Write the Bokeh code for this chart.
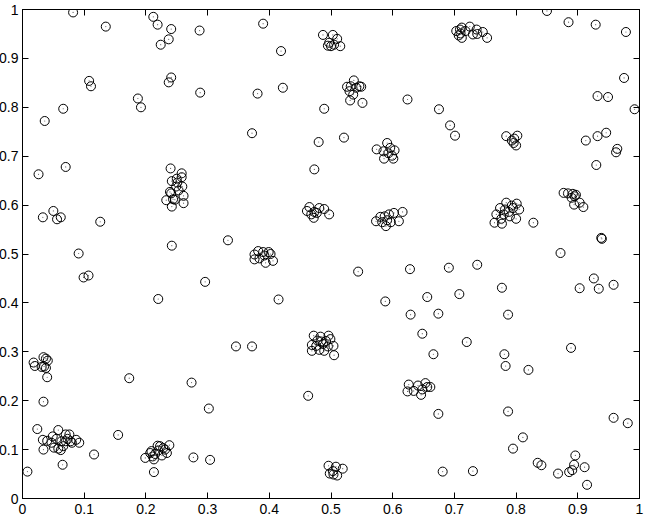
from bokeh.plotting import figure
from bokeh.models import LinearAxis, FixedTicker, Range1d
from bokeh.embed import file_html
from bokeh.resources import INLINE

# Isolated points
x_scattered = [0.082, 0.135, 0.212, 0.219, 0.241, 0.224, 0.237, 0.287, 0.108, 0.111, 0.241, 0.237,
               0.187, 0.192, 0.288, 0.066, 0.036, 0.026, 0.070, 0.033, 0.050, 0.056, 0.062, 0.126,
               0.091, 0.242, 0.099, 0.107, 0.220, 0.296, 0.173, 0.274, 0.302, 0.155, 0.116, 0.277,
               0.304, 0.008, 0.065, 0.213, 0.034, 0.040,
               0.390, 0.419, 0.381, 0.422, 0.372, 0.489, 0.480, 0.521, 0.473, 0.624, 0.333,
               0.544, 0.628, 0.415, 0.588, 0.629, 0.656, 0.648, 0.346, 0.372, 0.463,
               0.850, 0.885, 0.929, 0.978, 0.975, 0.932, 0.949, 0.992, 0.675, 0.693, 0.701, 0.913,
               0.932, 0.946, 0.964, 0.962, 0.930, 0.828, 0.938, 0.939, 0.872,
               0.691, 0.737, 0.777, 0.708, 0.674, 0.787, 0.720, 0.666, 0.781, 0.783, 0.820, 0.889,
               0.903, 0.926, 0.934, 0.958, 0.674, 0.787, 0.958, 0.981, 0.811, 0.795, 0.835, 0.841,
               0.681, 0.730, 0.868, 0.886, 0.891, 0.894, 0.896, 0.911, 0.915]
y_scattered = [0.994, 0.965, 0.985, 0.969, 0.960, 0.928, 0.939, 0.957, 0.854, 0.843, 0.861, 0.851,
               0.818, 0.800, 0.830, 0.797, 0.772, 0.663, 0.678, 0.575, 0.588, 0.571, 0.575, 0.566,
               0.501, 0.517, 0.452, 0.456, 0.408, 0.443, 0.246, 0.237, 0.184, 0.130, 0.090, 0.084,
               0.079, 0.055, 0.069, 0.054, 0.198, 0.248,
               0.971, 0.915, 0.828, 0.840, 0.747, 0.797, 0.729, 0.738, 0.673, 0.816, 0.528,
               0.464, 0.469, 0.407, 0.403, 0.376, 0.412, 0.337, 0.311, 0.311, 0.210,
               0.997, 0.974, 0.969, 0.954, 0.860, 0.823, 0.821, 0.796, 0.796, 0.763, 0.742, 0.732,
               0.741, 0.748, 0.715, 0.708, 0.682, 0.564, 0.533, 0.531, 0.502,
               0.472, 0.478, 0.431, 0.418, 0.378, 0.376, 0.320, 0.295, 0.295, 0.271, 0.263, 0.308,
               0.430, 0.450, 0.429, 0.437, 0.173, 0.178, 0.165, 0.154, 0.125, 0.102, 0.073, 0.068,
               0.055, 0.056, 0.051, 0.054, 0.058, 0.069, 0.088, 0.064, 0.028]

# Clustered points
x_clustered = [0.240, 0.258, 0.258, 0.250, 0.242, 0.251, 0.249, 0.259, 0.239, 0.253, 0.233, 0.244,
               0.261, 0.261, 0.242, 0.247, 0.241,
               0.018, 0.020, 0.034, 0.038, 0.041, 0.035, 0.038, 0.031,
               0.024, 0.033, 0.040, 0.034, 0.049, 0.047, 0.051, 0.058, 0.058, 0.062, 0.063, 0.070,
               0.073, 0.076, 0.078, 0.080, 0.087, 0.092, 0.070, 0.066, 0.055,
               0.199, 0.207, 0.211, 0.213, 0.215, 0.219, 0.223, 0.226, 0.231, 0.234, 0.238, 0.209,
               0.220, 0.228,
               0.487, 0.503, 0.510, 0.497, 0.500, 0.495, 0.505, 0.515,
               0.537, 0.526, 0.532, 0.541, 0.549, 0.530, 0.536, 0.531, 0.551, 0.546,
               0.591, 0.574, 0.585, 0.596, 0.603, 0.586, 0.601, 0.599, 0.593,
               0.461, 0.465, 0.473, 0.472, 0.481, 0.489, 0.497, 0.468, 0.477,
               0.573, 0.580, 0.587, 0.594, 0.602, 0.616, 0.589, 0.591, 0.597, 0.610, 0.583,
               0.382, 0.390, 0.399, 0.376, 0.376, 0.394, 0.406, 0.384, 0.392, 0.402,
               0.472, 0.483, 0.496, 0.499, 0.469, 0.476, 0.487, 0.495, 0.504, 0.469, 0.481, 0.489,
               0.505, 0.484, 0.492, 0.478,
               0.496, 0.508, 0.519, 0.498, 0.504, 0.510, 0.503,
               0.626, 0.624, 0.641, 0.646, 0.653, 0.656, 0.661, 0.648, 0.634,
               0.703, 0.709, 0.712, 0.710, 0.712, 0.718, 0.725, 0.730, 0.736, 0.737, 0.746, 0.753,
               0.707,
               0.784, 0.802, 0.793, 0.796, 0.800, 0.797,
               0.784, 0.793, 0.801, 0.774, 0.782, 0.795, 0.805, 0.768, 0.780, 0.788, 0.800, 0.776,
               0.765, 0.777, 0.790,
               0.877, 0.884, 0.892, 0.895, 0.890, 0.894, 0.903, 0.909, 0.897]
y_clustered = [0.675, 0.665, 0.657, 0.654, 0.649, 0.646, 0.638, 0.638, 0.627, 0.630, 0.610, 0.612,
               0.619, 0.604, 0.597, 0.611, 0.624,
               0.278, 0.271, 0.289, 0.286, 0.282, 0.270, 0.267, 0.269,
               0.142, 0.120, 0.118, 0.100, 0.127, 0.114, 0.104, 0.140, 0.102, 0.099, 0.117, 0.131,
               0.122, 0.131, 0.117, 0.114, 0.120, 0.114, 0.117, 0.107, 0.122,
               0.083, 0.093, 0.086, 0.080, 0.091, 0.108, 0.107, 0.088, 0.100, 0.093, 0.109, 0.097,
               0.098, 0.103,
               0.948, 0.948, 0.940, 0.932, 0.925, 0.926, 0.928, 0.925,
               0.855, 0.842, 0.843, 0.840, 0.842, 0.833, 0.826, 0.814, 0.809, 0.843,
               0.727, 0.714, 0.710, 0.717, 0.712, 0.695, 0.695, 0.701, 0.706,
               0.588, 0.596, 0.586, 0.574, 0.594, 0.592, 0.581, 0.581, 0.584,
               0.567, 0.576, 0.577, 0.581, 0.584, 0.586, 0.557, 0.569, 0.565, 0.567, 0.565,
               0.506, 0.504, 0.504, 0.499, 0.489, 0.482, 0.486, 0.491, 0.497, 0.500,
               0.333, 0.331, 0.333, 0.326, 0.314, 0.312, 0.316, 0.311, 0.312, 0.302, 0.304, 0.302,
               0.293, 0.321, 0.322, 0.323,
               0.067, 0.065, 0.061, 0.051, 0.049, 0.047, 0.056,
               0.233, 0.219, 0.231, 0.212, 0.236, 0.228, 0.228, 0.223, 0.220,
               0.956, 0.959, 0.963, 0.951, 0.942, 0.956, 0.965, 0.949, 0.959, 0.950, 0.954, 0.942,
               0.947,
               0.741, 0.742, 0.732, 0.727, 0.722, 0.736,
               0.605, 0.599, 0.603, 0.594, 0.591, 0.594, 0.591, 0.581, 0.581, 0.586, 0.572, 0.572,
               0.564, 0.562, 0.577,
               0.625, 0.624, 0.623, 0.618, 0.615, 0.601, 0.605, 0.596, 0.621]

tick_values = [0, 0.1, 0.2, 0.3, 0.4, 0.5, 0.6, 0.7, 0.8, 0.9, 1]
tick_labels = ["0", "0.1", "0.2", "0.3", "0.4", "0.5", "0.6", "0.7", "0.8", "0.9", "1"]

FONT = "Liberation Sans"

p = figure(width=653, height=520, output_backend="svg", toolbar_location=None,
           x_range=Range1d(0, 1), y_range=Range1d(0, 1),
           min_border_left=23, min_border_right=10, min_border_top=13, min_border_bottom=18)
p.styles = {"margin": "-4px"}
p.xgrid.visible = False
p.ygrid.visible = False
p.outline_line_color = "black"
p.outline_line_width = 1
p.background_fill_color = "white"
p.border_fill_color = "white"

overrides = {t: l for t, l in zip(tick_values, tick_labels)}
blank = {t: "" for t in tick_values}

def style_axis(ax, labels, standoff, size="14px"):
    ax.ticker = FixedTicker(ticks=tick_values)
    ax.major_label_overrides = labels
    ax.major_tick_in = 6
    ax.major_tick_out = 0
    ax.minor_tick_in = 0
    ax.minor_tick_out = 0
    ax.axis_line_color = "black"
    ax.major_tick_line_color = "black"
    ax.major_label_text_font = FONT
    ax.major_label_text_font_size = size
    ax.major_label_text_color = "black"
    ax.major_label_standoff = standoff

style_axis(p.xaxis[0], overrides, 5)
style_axis(p.yaxis[0], overrides, 4)

top_axis = LinearAxis()
style_axis(top_axis, blank, 0, "0px")
p.add_layout(top_axis, "above")

right_axis = LinearAxis()
style_axis(right_axis, blank, 0, "0px")
p.add_layout(right_axis, "right")

xs = x_scattered + x_clustered
ys = y_scattered + y_clustered
p.scatter(xs, ys, marker="circle", size=9, fill_color=None, line_color="black", line_width=1)
p.scatter(xs, ys, marker="circle", size=1.2, fill_color="#666666", line_color=None)

open("out.html", "w").write(file_html(p, INLINE))
